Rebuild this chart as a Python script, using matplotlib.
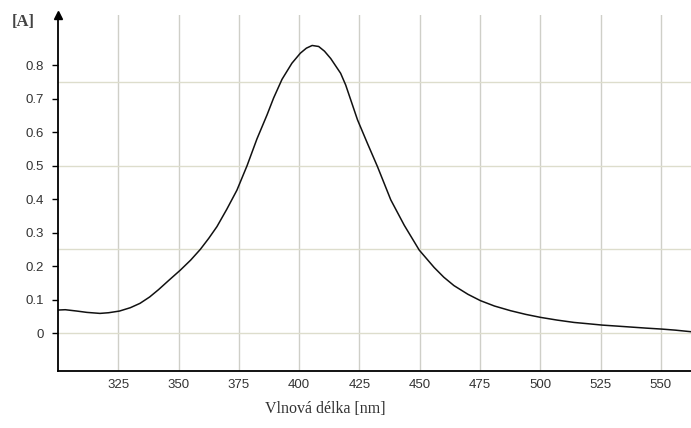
import matplotlib.pyplot as plt

# absorbance spectrum
wavelength = [300, 303, 307.8, 312, 317.4, 321, 325.5, 330, 334, 338, 341.7, 346, 350.7,
              355, 359, 362.5, 365.9, 370, 374.2, 378.4, 382.5, 386.7, 389.4, 392.9,
              397, 400.5, 403, 405.4, 408.1, 410.5, 413.1, 417.2, 419.3, 424.2, 428.3,
              432.5, 438, 443.6, 449.8, 456, 460, 464.2, 470, 475.2, 481, 487.7, 494,
              500.2, 507, 514, 520, 525.8, 532, 538, 544, 550.7, 556, 562.9]
absorbance = [0.069, 0.07, 0.066, 0.062, 0.059, 0.061, 0.066, 0.076, 0.089, 0.108, 0.130, 0.158, 0.188,
              0.218, 0.25, 0.283, 0.318, 0.37, 0.427, 0.50, 0.58, 0.652, 0.702, 0.758,
              0.806, 0.836, 0.851, 0.859, 0.856, 0.842, 0.82, 0.776, 0.741, 0.637, 0.567,
              0.497, 0.398, 0.322, 0.248, 0.196, 0.167, 0.142, 0.116, 0.097, 0.081, 0.067, 0.056,
              0.047, 0.039, 0.032, 0.028, 0.024, 0.021, 0.018, 0.015, 0.012, 0.009, 0.004]

xticks = [325, 350, 375, 400, 425, 450, 475, 500, 525, 550]
yticks = [0, 0.1, 0.2, 0.3, 0.4, 0.5, 0.6, 0.7, 0.8]
ytick_labels = ["0", "0.1", "0.2", "0.3", "0.4", "0.5", "0.6", "0.7", "0.8"]
hlines = [0, 0.25, 0.5, 0.75]

fig = plt.figure(figsize=(6.91, 4.28), dpi=100)
ax = fig.add_axes([58 / 691, 57 / 428, 1 - 58 / 691, (371 - 15) / 428])

for x in xticks:
    ax.axvline(x, color="#cfcfc8", lw=1, zorder=0)
for y in hlines:
    ax.axhline(y, color="#ddddcc", lw=1, zorder=0)

ax.plot(wavelength, absorbance, color="#111111", lw=1.1)

ax.set_xlim(300, 562.5)
ax.set_ylim(-0.113, 0.95)
ax.set_xticks(xticks)
ax.set_yticks(yticks)
ax.set_yticklabels(ytick_labels)
ax.tick_params(axis="x", length=0, pad=6, labelsize=9.5, labelcolor="#333333")
ax.tick_params(axis="y", length=4, width=1, pad=6, labelsize=9.5, labelcolor="#333333")
for lab in ax.get_xticklabels() + ax.get_yticklabels():
    lab.set_family("Liberation Sans")

ax.spines["top"].set_visible(False)
ax.spines["right"].set_visible(False)
ax.spines["left"].set_linewidth(1.3)
ax.spines["bottom"].set_linewidth(1.3)

# arrow on top of the y axis
ax.plot([0], [1], marker="^", ms=6, color="black", transform=ax.transAxes, clip_on=False)

fig.text(12 / 691, 1 - 22 / 428, "[A]", family="Liberation Serif", fontsize=12,
         fontweight="bold", color="#444444", va="center", ha="left")
fig.text(325 / 691, 1 - 409 / 428, "Vlnová délka [nm]", family="Liberation Serif",
         fontsize=11.5, color="#333333", va="center", ha="center")

fig.savefig("out.png", dpi=100)
